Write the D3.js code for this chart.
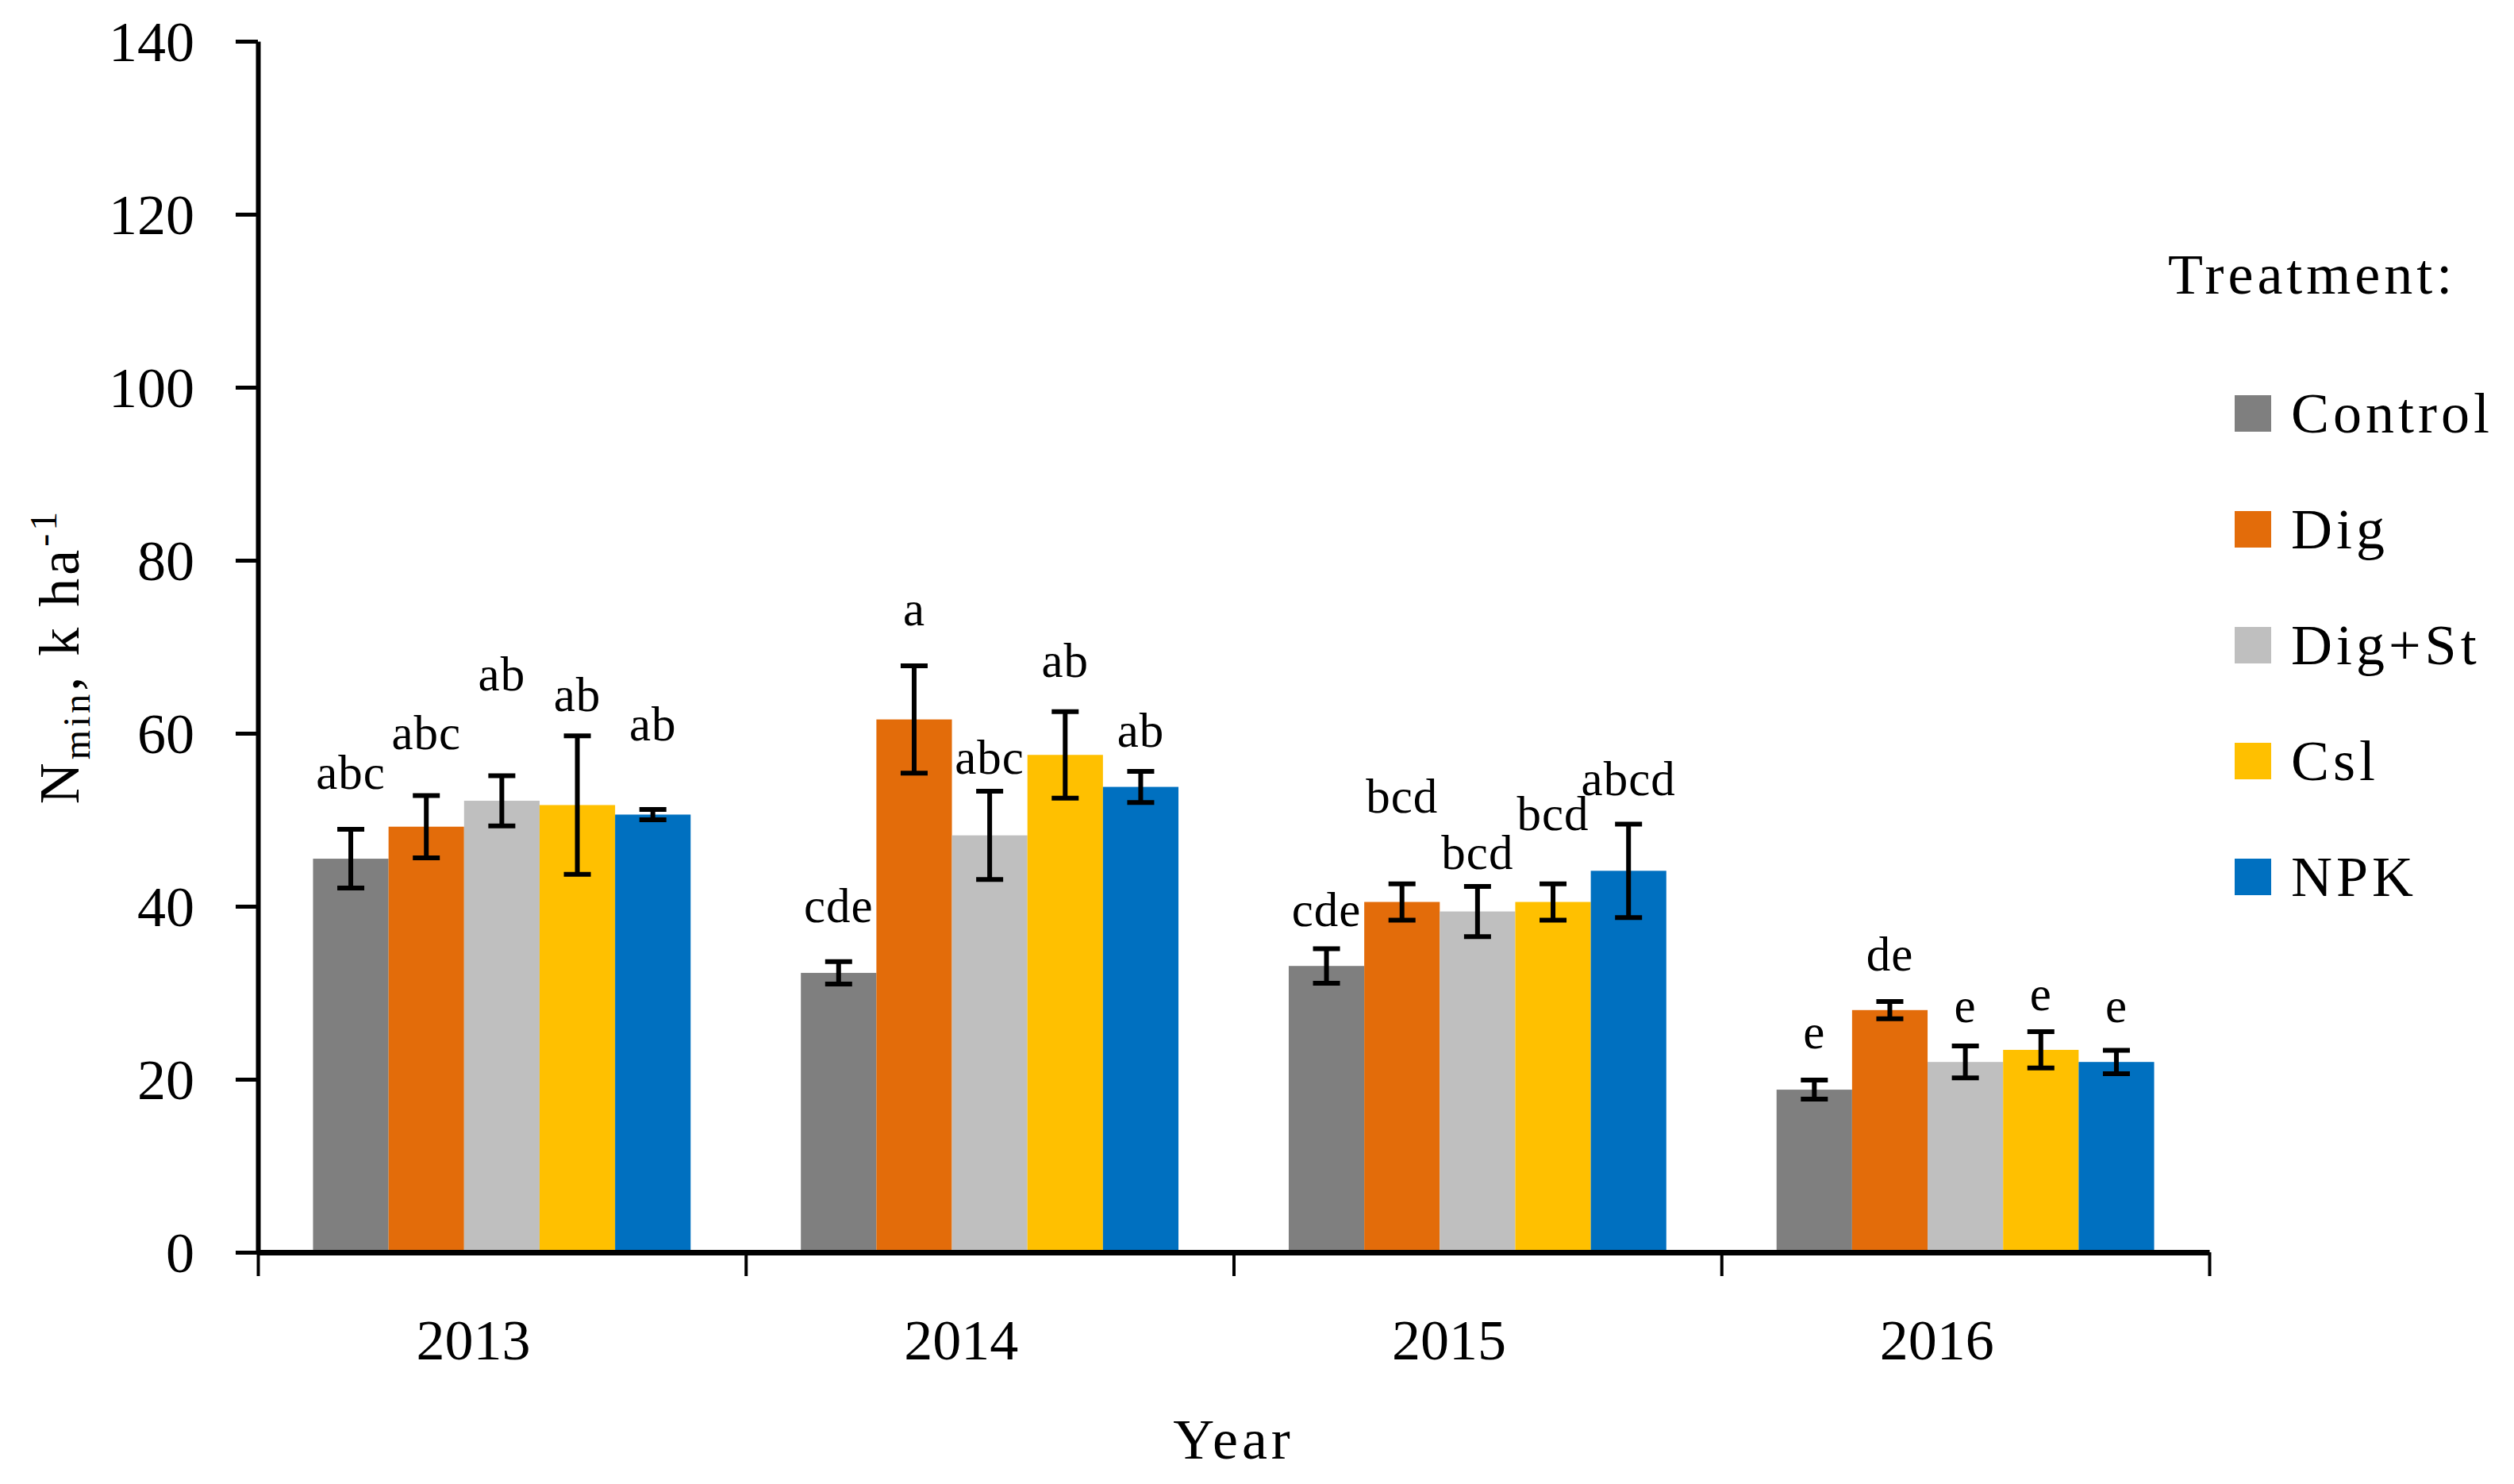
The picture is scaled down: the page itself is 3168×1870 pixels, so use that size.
<!DOCTYPE html>
<html>
<head>
<meta charset="utf-8">
<script src="https://cdn.jsdelivr.net/npm/d3@7"></script>
<style>
  body { margin: 0; background: #fff; }
  svg text { font-family: 'Palatino Linotype', 'Book Antiqua', Palatino, 'Liberation Serif', serif; fill: #000; }
</style>
</head>
<body>
<svg id="chart" width="3168" height="1870"></svg>
<script>
const years = ['2013', '2014', '2015', '2016'];
const treatments = ['Control', 'Dig', 'Dig+St', 'Csl', 'NPK'];
const colors = ['#7f7f7f', '#e36c0a', '#bfbfbf', '#ffc000', '#0070c0'];
const yTicks = [0, 20, 40, 60, 80, 100, 120, 140];

// Nmin means, one value per year
const control = [45.5, 32.3, 33.1, 18.8];
const dig = [49.2, 61.6, 40.5, 28.0];
const digSt = [52.2, 48.2, 39.4, 22.0];
const csl = [51.7, 57.5, 40.5, 23.4];
const npk = [50.6, 53.8, 44.1, 22.0];

// error bar half lengths
const controlErr = [3.4, 1.3, 2.0, 1.1];
const digErr = [3.6, 6.2, 2.1, 1.0];
const digStErr = [2.9, 5.1, 2.9, 1.85];
const cslErr = [8.0, 5.0, 2.1, 2.1];
const npkErr = [0.6, 1.8, 5.4, 1.35];

// significance letters
const controlLetters = ['abc', 'cde', 'cde', 'e'];
const digLetters = ['abc', 'a', 'bcd', 'de'];
const digStLetters = ['ab', 'abc', 'bcd', 'e'];
const cslLetters = ['ab', 'ab', 'bcd', 'e'];
const npkLetters = ['ab', 'ab', 'abcd', 'e'];

const means = [control, dig, digSt, csl, npk];
const errs = [controlErr, digErr, digStErr, cslErr, npkErr];
const letters = [controlLetters, digLetters, digStLetters, cslLetters, npkLetters];

// where each letter sits (baseline, in axis units) - placed by hand in the original
const letterAt = [
  [53.6, 38.2, 37.7, 23.6],
  [58.2, 72.5, 50.8, 32.6],
  [65.0, 55.3, 44.3, 26.6],
  [62.6, 66.5, 48.8, 28.0],
  [59.2, 58.4, 52.8, 26.6]
];

const svg = d3.select('#chart'),
  margin = { top: 52, right: 384, bottom: 292, left: 325 },
  width = +svg.attr('width'),
  height = +svg.attr('height'),
  plotBottom = height - margin.bottom,
  plotRight = width - margin.right;

const rows = [];
treatments.forEach((t, i) => {
  years.forEach((yr, j) => {
    rows.push({
      treatment: t,
      year: yr,
      color: colors[i],
      value: means[i][j],
      err: errs[i][j],
      letter: letters[i][j],
      letterY: letterAt[i][j]
    });
  });
});

const y = d3
  .scaleLinear()
  .domain([0, 140])
  .range([plotBottom, margin.top]);

const x0 = d3
  .scaleBand()
  .domain(years)
  .range([margin.left, plotRight]);

const x1 = d3
  .scaleBand()
  .domain(treatments)
  .range([0, x0.bandwidth()])
  .paddingOuter(0.73);

const xEdge = d3
  .scaleLinear()
  .domain([0, years.length])
  .range([margin.left, plotRight]);

// bars
svg
  .append('g')
  .selectAll('rect')
  .data(rows)
  .enter()
  .append('rect')
  .attr('x', d => x0(d.year) + x1(d.treatment))
  .attr('y', d => y(d.value))
  .attr('width', x1.bandwidth())
  .attr('height', d => y(0) - y(d.value))
  .attr('fill', d => d.color);

// error bars
const eb = svg
  .append('g')
  .attr('stroke', '#000')
  .attr('stroke-width', 6)
  .selectAll('g')
  .data(rows)
  .enter()
  .append('g')
  .attr('transform', d => `translate(${x0(d.year) + x1(d.treatment) + x1.bandwidth() / 2},0)`);

eb.append('line')
  .attr('y1', d => y(d.value + d.err))
  .attr('y2', d => y(d.value - d.err));
eb.append('line')
  .attr('x1', -17).attr('x2', 17)
  .attr('y1', d => y(d.value + d.err))
  .attr('y2', d => y(d.value + d.err));
eb.append('line')
  .attr('x1', -17).attr('x2', 17)
  .attr('y1', d => y(d.value - d.err))
  .attr('y2', d => y(d.value - d.err));

// letters
svg
  .append('g')
  .attr('font-size', 61)
  .attr('letter-spacing', 1)
  .attr('text-anchor', 'middle')
  .selectAll('text')
  .data(rows)
  .enter()
  .append('text')
  .attr('x', d => x0(d.year) + x1(d.treatment) + x1.bandwidth() / 2)
  .attr('y', d => y(d.letterY))
  .text(d => d.letter);

// y axis
svg
  .append('g')
  .attr('transform', `translate(${margin.left},0)`)
  .call(d3.axisLeft(y).tickValues(yTicks).tickSize(28).tickSizeOuter(0))
  .call(g => g.select('.domain').attr('stroke-width', 6))
  .call(g => g.selectAll('.tick line').attr('stroke-width', 5))
  .call(g =>
    g.selectAll('.tick text')
      .attr('x', -80)
      .attr('dy', '0.34em')
      .attr('font-size', 72)
  );

// x axis line and boundary ticks
svg
  .append('g')
  .attr('transform', `translate(0,${plotBottom})`)
  .call(
    d3.axisBottom(xEdge)
      .tickValues(d3.range(years.length + 1))
      .tickSize(30)
      .tickSizeOuter(0)
      .tickFormat('')
  )
  .call(g => g.select('.domain').attr('stroke-width', 7))
  .call(g => g.selectAll('.tick line').attr('stroke-width', 4));

// year labels
svg
  .append('g')
  .attr('transform', `translate(0,${plotBottom})`)
  .call(d3.axisBottom(x0).tickSize(0))
  .call(g => g.select('.domain').remove())
  .call(g =>
    g.selectAll('.tick text')
      .attr('y', 135)
      .attr('dy', 0)
      .attr('dx', -36)
      .attr('font-size', 72)
  );

// axis titles
svg
  .append('text')
  .attr('x', (margin.left + plotRight) / 2)
  .attr('y', 1838)
  .attr('text-anchor', 'middle')
  .attr('font-size', 72)
  .attr('letter-spacing', 5)
  .text('Year');

const yTitle = svg
  .append('text')
  .attr('transform', 'translate(99,827) rotate(-90)')
  .attr('text-anchor', 'middle')
  .attr('font-size', 72)
  .attr('letter-spacing', 4);
yTitle.append('tspan').text('N');
yTitle.append('tspan').attr('font-size', 48).attr('dy', 14).text('min');
yTitle.append('tspan').attr('dy', -14).text(', k ha');
yTitle.append('tspan').attr('font-size', 48).attr('dy', -28).text('-1');

// legend
const legend = svg.append('g').attr('font-size', 72).attr('letter-spacing', 5);

legend
  .append('text')
  .attr('x', 2732)
  .attr('y', 370)
  .text('Treatment:');

const item = legend
  .selectAll('g')
  .data(treatments)
  .enter()
  .append('g')
  .attr('transform', (d, i) => `translate(2816,${498 + i * 146})`);

item.append('rect')
  .attr('width', 46)
  .attr('height', 46)
  .attr('fill', (d, i) => colors[i]);

item.append('text')
  .attr('x', 71)
  .attr('y', 47)
  .text(d => d);
</script>
</body>
</html>
